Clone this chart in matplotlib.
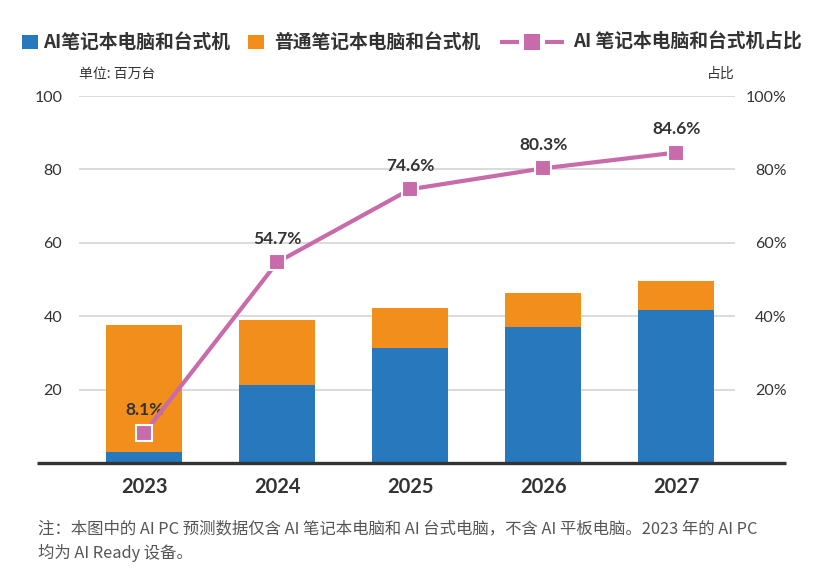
import matplotlib
matplotlib.use("Agg")
import matplotlib.pyplot as plt
from matplotlib.patches import Rectangle
from matplotlib.lines import Line2D
import numpy as np

years = ["2023", "2024", "2025", "2026", "2027"]
ai_pc = [3.0, 21.3, 31.3, 37.1, 41.7]
normal_pc = [34.6, 17.7, 10.9, 9.2, 7.9]
ai_share = [8.1, 54.7, 74.6, 80.3, 84.6]
share_labels = ["8.1%", "54.7%", "74.6%", "80.3%", "84.6%"]
left_ticks = [20, 40, 60, 80, 100]
right_ticks = [20, 40, 60, 80, 100]
legend_labels = ["AI笔记本电脑和台式机", "普通笔记本电脑和台式机", "AI 笔记本电脑和台式机占比"]

BLUE = "#2878BD"
ORANGE = "#F28F1C"
PINK = "#C86BAA"
DARK = "#333333"
CJK = ["Noto Sans CJK SC", "DejaVu Sans"]
NUM = ["Lato", "Noto Sans CJK SC"]

plt.rcParams['font.family'] = CJK

W, H = 819, 577
fig = plt.figure(figsize=(W / 100, H / 100), dpi=100)
x0, x1, ytop, ybot = 79, 735, 96, 463
ax = fig.add_axes([x0 / W, (H - ybot) / H, (x1 - x0) / W, (ybot - ytop) / H])

x = np.arange(len(years))
bw = 76 / 133
ax.bar(x, ai_pc, width=bw, color=BLUE, zorder=2)
ax.bar(x, normal_pc, width=bw, bottom=ai_pc, color=ORANGE, zorder=2)
ax.set_xlim(-0.49, 4.44)
ax.set_ylim(0, 100)
ax.set_yticks(left_ticks)
ax.set_yticklabels([str(t) for t in left_ticks], fontfamily=NUM, fontsize=11.5, color=DARK)
ax.yaxis.grid(True, color="#d4d4d4", linewidth=1.2, zorder=0)
ax.set_axisbelow(True)
ax.tick_params(axis='y', length=0, pad=12)
ax.set_xticks(x)
ax.set_xticklabels(years, fontfamily=NUM, fontsize=14.5, fontweight='bold', color=DARK)
ax.tick_params(axis='x', length=0, pad=10)
for s in ax.spines.values():
    s.set_visible(False)
ax.plot([-0.064, 1.078], [0, 0], transform=ax.get_yaxis_transform(), clip_on=False,
        color="#333333", linewidth=2.4, zorder=5, solid_capstyle='butt')

ax2 = ax.twinx()
ax2.set_ylim(0, 100)
ax2.set_yticks(right_ticks)
ax2.set_yticklabels([f"{t}%" for t in right_ticks], fontfamily=NUM, fontsize=11.5, color=DARK,
                    ha='right')
ax2.tick_params(axis='y', length=0, pad=37)
for s in ax2.spines.values():
    s.set_visible(False)
ax2.plot(x, ai_share, color=PINK, linewidth=3, marker='s', markersize=11,
         markerfacecolor=PINK, markeredgecolor='white', markeredgewidth=1.5, zorder=6)
for xi, v, lab in zip(x, ai_share, share_labels):
    ax2.annotate(lab, (xi, v), xytext=(0, 11), textcoords='offset points', ha='center',
                 va='bottom', fontsize=12.5, fontweight='bold', color=DARK, fontfamily=NUM)

fig.text(79 / W, 1 - 74 / H, "单位: 百万台", fontsize=10, color=DARK, ha='left', va='center')
fig.text(735 / W, 1 - 74 / H, "占比", fontsize=10, color=DARK, ha='right', va='center')


# manual legend (figure pixel coords -> fraction)
def fx(px):
    return px / W


def fy(py):
    return 1 - py / H


ly = 42
fig.add_artist(Rectangle((fx(22), fy(49)), 16 / W, 14 / H, transform=fig.transFigure,
                         facecolor=BLUE, edgecolor='none'))
fig.text(fx(43), fy(ly), legend_labels[0], fontsize=13.5, fontweight='bold', color=DARK,
         ha='left', va='center')
fig.add_artist(Rectangle((fx(248), fy(49)), 16 / W, 14 / H, transform=fig.transFigure,
                         facecolor=ORANGE, edgecolor='none'))
fig.text(fx(274), fy(ly), legend_labels[1], fontsize=13.5, fontweight='bold', color=DARK,
         ha='left', va='center')
fig.add_artist(Line2D([fx(500), fx(519)], [fy(ly), fy(ly)], transform=fig.transFigure,
                      color=PINK, linewidth=3, solid_capstyle='butt'))
fig.add_artist(Line2D([fx(545), fx(564)], [fy(ly), fy(ly)], transform=fig.transFigure,
                      color=PINK, linewidth=3, solid_capstyle='butt'))
fig.add_artist(Rectangle((fx(524), fy(50)), 16 / W, 16 / H, transform=fig.transFigure,
                         facecolor=PINK, edgecolor='none'))
fig.text(fx(573), fy(ly), legend_labels[2], fontsize=13.5, fontweight='bold', color=DARK,
         ha='left', va='center')

note1 = "注：本图中的 AI PC 预测数据仅含 AI 笔记本电脑和 AI 台式电脑，不含 AI 平板电脑。2023 年的 AI PC"
note2 = "均为 AI Ready 设备。"
fig.text(38 / W, 1 - 529 / H, note1, fontsize=11.8, color="#555555", ha='left', va='center')
fig.text(38 / W, 1 - 553 / H, note2, fontsize=11.8, color="#555555", ha='left', va='center')

fig.savefig("out.png", dpi=100)
